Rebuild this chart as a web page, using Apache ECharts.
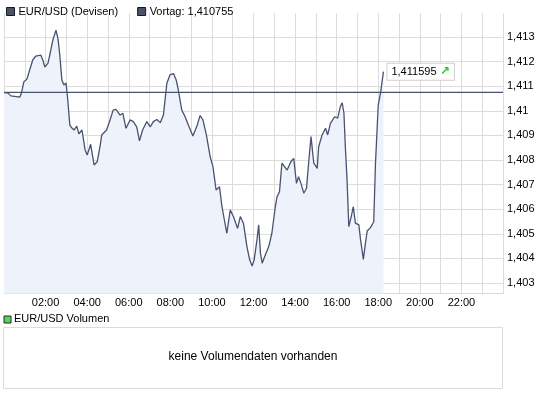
<!DOCTYPE html>
<html>
<head>
<meta charset="utf-8">
<script src="https://cdn.jsdelivr.net/npm/echarts@6/dist/echarts.min.js"></script>
<style>
html,body{margin:0;padding:0;background:#fff;}
#chart{width:545px;height:395px;}
</style>
</head>
<body>
<div id="chart"></div>
<script>
// ---- data (minutes after midnight, EUR/USD quote) ----
const times = [0,5,12,20,25,46,51,57,66,75,83,92,106,112,118,127,132,141,150,156,161,167,173,179,184,190,196,202,210,216,225,234,240,250,260,269,277,282,296,306,315,323,335,343,352,364,373,383,391,400,412,422,431,441,451,460,470,479,489,497,503,513,523,532,545,556,566,574,584,595,603,612,622,629,636,643,653,662,674,682,691,701,709,716,722,730,735,740,745,754,764,773,783,788,795,802,807,817,828,836,844,850,857,865,873,879,886,894,904,908,918,928,934,942,954,963,971,976,981,985,990,995,1002,1008,1014,1024,1029,1037,1043,1048,1058,1067,1072,1077,1080,1087,1095];
const quotes = [1.41074,1.41068,1.41072,1.41061,1.41060,1.41056,1.41076,1.41117,1.41129,1.41170,1.41207,1.41223,1.41227,1.41207,1.41178,1.41194,1.41227,1.41288,1.41328,1.41292,1.41227,1.41125,1.41105,1.41113,1.41044,1.40942,1.40930,1.40922,1.40938,1.40906,1.40922,1.40841,1.40820,1.40864,1.40780,1.40793,1.40854,1.40902,1.40922,1.40963,1.41003,1.41006,1.40983,1.40990,1.40929,1.40963,1.40956,1.40935,1.40878,1.40922,1.40956,1.40935,1.40956,1.40965,1.40952,1.40983,1.41112,1.41146,1.41152,1.41125,1.41085,1.41003,1.40975,1.40942,1.40898,1.40935,1.40981,1.40963,1.40902,1.40813,1.40773,1.40678,1.40691,1.40610,1.40556,1.40502,1.40597,1.40570,1.40522,1.40570,1.40543,1.40448,1.40394,1.40369,1.40394,1.40475,1.40536,1.40421,1.40380,1.40414,1.40448,1.40502,1.40610,1.40651,1.40671,1.40787,1.40793,1.40759,1.40793,1.40807,1.40705,1.40732,1.40705,1.40665,1.40685,1.40787,1.40895,1.40787,1.40766,1.40854,1.40902,1.40929,1.40902,1.40949,1.40976,1.40970,1.41019,1.41033,1.40990,1.40854,1.40719,1.40529,1.40570,1.40610,1.40543,1.40536,1.40475,1.40396,1.40461,1.40511,1.40526,1.40549,1.40787,1.40935,1.41024,1.41076,1.411595];
const previousClose = 1.410755;
const seriesName = 'EUR/USD (Devisen)';
const prevName = 'Vortag: 1,410755';
const volumeName = 'EUR/USD Volumen';
const noVolumeText = 'keine Volumendaten vorhanden';
const tickNote = '1 Tick = 10 Min.';
const dayStart = 0, dayEnd = 1440;

const FONT = '"Liberation Sans", Arial, sans-serif';
const deNum = v => String(+(+v).toFixed(6)).replace('.', ',');
const pad2 = n => (n < 10 ? '0' : '') + n;

const chart = echarts.init(document.getElementById('chart'), null, {renderer: 'canvas'});
chart.setOption({
  animation: false,
  textStyle: {fontFamily: FONT},
  legend: {
    left: 1, top: 1,
    itemWidth: 8, itemHeight: 8, itemGap: 19,
    icon: 'rect',
    textStyle: {fontSize: 11, color: '#000', fontFamily: FONT, padding: [0, 0, 0, -1]},
    data: [
      {name: seriesName, itemStyle: {color: '#4b5168', borderColor: '#1a1a1a', borderWidth: 1}},
      {name: prevName, itemStyle: {color: '#4b5168', borderColor: '#1a1a1a', borderWidth: 1}}
    ]
  },
  grid: {left: 4, right: 42, top: 13, bottom: 101.5, containLabel: false},
  xAxis: {
    type: 'value', min: dayStart, max: dayEnd, interval: 60,
    axisLine: {show: true, lineStyle: {color: '#d8d8d8'}},
    axisTick: {show: false},
    splitLine: {show: true, lineStyle: {color: '#dcdcdc', width: 1}},
    axisLabel: {
      margin: 4, fontSize: 11, color: '#000', fontFamily: FONT,
      showMinLabel: false, showMaxLabel: false,
      formatter: v => (v % 120 === 0 && v > 0 && v < 1440) ? pad2(v / 60) + ':00' : ''
    }
  },
  yAxis: {
    type: 'value', position: 'right',
    min: 1.40257, max: 1.41398, splitNumber: 11,
    minInterval: 0.001, maxInterval: 0.001,
    axisLine: {show: false}, axisTick: {show: false},
    splitLine: {show: true, showMaxLine: false, lineStyle: {color: '#dcdcdc', width: 1}},
    axisLabel: {
      margin: 4, fontSize: 11, color: '#000', fontFamily: FONT,
      showMinLabel: false, showMaxLabel: false,
      formatter: v => String(+v.toFixed(3)).replace('.', ',')
    }
  },
  series: [
    {
      name: seriesName, type: 'line',
      data: times.map((t, i) => [t, quotes[i]]),
      showSymbol: false, symbol: 'none',
      lineStyle: {color: '#4a5270', width: 1.3},
      itemStyle: {color: '#4b5168'},
      areaStyle: {color: '#eef2fb', origin: 'start', opacity: 1},
      z: 3,
      endLabel: {
        show: true, distance: 4,
        formatter: p => '{v|' + deNum(p.value[1]) + '} {a|↗}',
        backgroundColor: '#fff', borderColor: '#d0d0d0', borderWidth: 1,
        padding: [2, 4, 2, 4],
        rich: {
          v: {fontSize: 11, color: '#000', fontFamily: FONT},
          a: {fontSize: 12, color: '#22cc22', fontWeight: 'bold', fontFamily: '"DejaVu Sans", sans-serif'}
        }
      }
    },
    {
      name: prevName, type: 'line',
      data: [[dayStart, previousClose], [dayEnd, previousClose]],
      showSymbol: false, symbol: 'none',
      lineStyle: {color: '#4a5270', width: 1.2},
      itemStyle: {color: '#4b5168'},
      z: 4
    }
  ],
  graphic: [
    {type: 'text', left: 10, top: 280, silent: true,
     style: {text: tickNote, fontSize: 11, fill: '#9a9a9a', fontFamily: FONT}},
    {type: 'rect', shape: {x: 4, y: 316, width: 7, height: 7}, silent: true,
     style: {fill: '#5fcf5f', stroke: '#2a2a2a', lineWidth: 1}},
    {type: 'text', left: 14, top: 313, silent: true,
     style: {text: volumeName, fontSize: 11, fill: '#000', fontFamily: FONT}},
    {type: 'rect', shape: {x: 3.5, y: 327.5, width: 499, height: 61}, silent: true,
     style: {fill: '#fff', stroke: '#dcdcdc', lineWidth: 1}},
    {type: 'text', x: 253, y: 357, silent: true,
     style: {text: noVolumeText, fontSize: 12, fill: '#000', fontFamily: FONT, align: 'center', verticalAlign: 'middle'}}
  ]
});
</script>
</body>
</html>
